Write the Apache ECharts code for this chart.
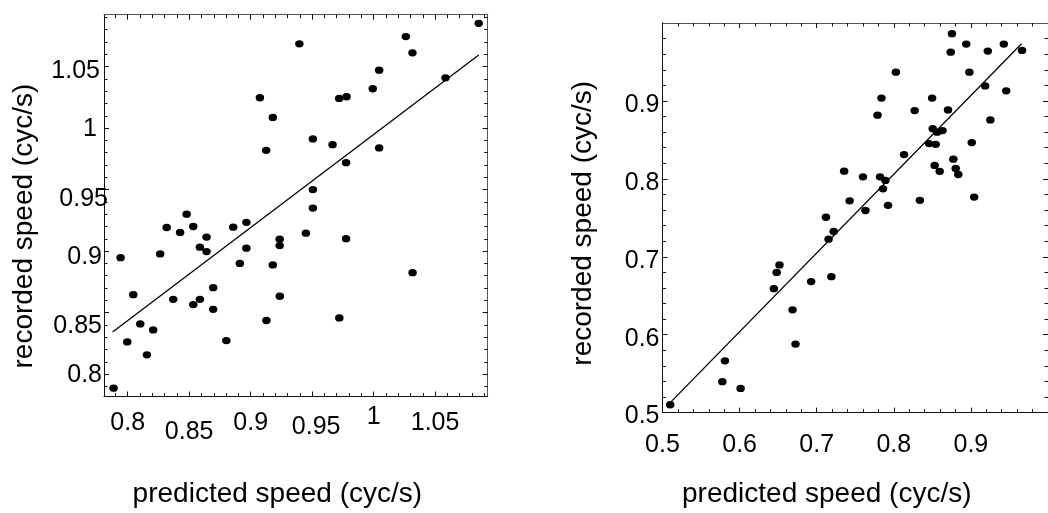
<!DOCTYPE html>
<html>
<head>
<meta charset="utf-8">
<script src="https://cdn.jsdelivr.net/npm/echarts@6/dist/echarts.min.js"></script>
<style>
html,body{margin:0;padding:0;background:#fff;}
#chart{width:1048px;height:513px;}
</style>
</head>
<body>
<div id="chart"></div>
<script>
// ---- Left panel data ----
const leftX = [0.9396,0.9075,0.9180,0.9126,1.0855,1.0262,1.0316,1.0045,0.9993,0.9720,0.9780,1.0585,0.9506,0.9666,1.0045,0.9776,0.9506,0.9506,
  0.8479,0.8317,0.8533,0.8426,0.8641,0.8587,0.8641,0.8858,0.8965,0.8965,0.9236,0.9236,0.9449,0.9776,0.7942,0.8264,0.8912,0.9180,
  0.8045,0.8695,0.8370,0.8533,0.8587,0.8695,0.9237,0.9128,0.8102,0.8207,0.7996,0.8802,0.8156,0.7885,1.0317,0.9721];
const leftY = [1.0685,1.0247,1.0087,0.9819,1.0852,1.0744,1.0612,1.0471,1.0320,1.0241,1.0255,1.0409,0.9912,0.9865,0.9839,0.9719,0.9500,0.9350,
  0.9300,0.9192,0.9200,0.9152,0.9114,0.9032,0.8996,0.9195,0.9234,0.9024,0.9097,0.9045,0.9146,0.9101,0.8947,0.8977,0.8900,0.8888,
  0.8646,0.8703,0.8608,0.8565,0.8608,0.8527,0.8633,0.8436,0.8408,0.8359,0.8262,0.8273,0.8157,0.7886,0.8825,0.8457];
const leftFitX = [0.7877, 1.0855];
const leftFitY = [0.8343, 1.0595];
const leftXTicks = [0.8, 0.85, 0.9, 0.95, 1, 1.05];
const leftYTicks = [0.8, 0.85, 0.9, 0.95, 1, 1.05];

// ---- Right panel data ----
const rightX = [0.5100,0.5810,0.5776,0.6013,0.6444,0.6481,0.6517,0.6687,0.6725,0.6928,0.7190,0.7120,0.7154,0.7220,
  0.7356,0.7427,0.7600,0.7632,0.7821,0.7891,0.7860,0.7925,0.7789,0.7840,0.8027,0.8133,0.8271,0.8338,0.8497,0.8458,
  0.8543,0.8505,0.8561,0.8632,0.8530,0.8595,0.8703,0.8754,0.8738,0.8772,0.8803,0.8836,0.8940,0.8980,0.9011,0.9042,
  0.9185,0.9219,0.9252,0.9427,0.9458,0.9663];
const rightY = [0.5101,0.5665,0.5397,0.5310,0.6591,0.6799,0.6895,0.6319,0.5880,0.6681,0.6745,0.7507,0.7226,0.7324,
  0.8098,0.7718,0.8026,0.7594,0.8026,0.7980,0.7872,0.7660,0.8817,0.9037,0.9369,0.8312,0.8876,0.7724,0.9037,0.8452,
  0.8443,0.8644,0.8599,0.8619,0.8172,0.8096,0.8884,0.9863,0.9625,0.8252,0.8133,0.8056,0.9730,0.9369,0.8466,0.7766,
  0.9193,0.9640,0.8756,0.9730,0.9130,0.9648];
const rightFitX = [0.5116, 0.9657];
const rightFitY = [0.5144, 0.9733];
const rightXTicks = [0.5, 0.6, 0.7, 0.8, 0.9];
const rightYTicks = [0.5, 0.6, 0.7, 0.8, 0.9];

const FONT = "'Liberation Sans', Arial, Helvetica, sans-serif";
const NEAR = '#111111', FAR = '#555555';

function steps(a, b, s) {
  const out = [];
  const n = Math.round((b - a) / s);
  for (let i = 0; i <= n; i++) out.push(Math.round((a + i * s) * 1000) / 1000);
  return out;
}
const leftMinor = steps(0.79, 1.09, 0.01);
const rightMinor = steps(0.52, 0.98, 0.02);

function zip(xs, ys) { return xs.map((x, i) => [x, ys[i]]); }

function lbl(extra) {
  return Object.assign({ fontFamily: FONT, fontSize: 25, color: '#000', lineHeight: 25 }, extra || {});
}

// build 4 axes for one dimension of one grid: near-major (with labels), near-minor, far-major, far-minor
function axes(gridIndex, nearPos, farPos, min, max, majors, minors, label, name) {
  const base = { type: 'value', gridIndex, min, max, splitLine: { show: false }, silent: true };
  const a0 = Object.assign({}, base, {
    position: nearPos,
    axisLine: { show: true, onZero: false, lineStyle: { color: NEAR, width: 1 } },
    axisTick: { show: true, inside: true, length: 5, customValues: majors, lineStyle: { color: NEAR, width: 1 } },
    axisLabel: label
  }, name || {});
  const a1 = Object.assign({}, base, {
    position: nearPos,
    axisLine: { show: false, onZero: false },
    axisTick: { show: true, inside: true, length: 3.5, customValues: minors, lineStyle: { color: NEAR, width: 1 } },
    axisLabel: { show: false }
  });
  const a2 = Object.assign({}, base, {
    position: farPos,
    axisLine: { show: true, onZero: false, lineStyle: { color: FAR, width: 1 } },
    axisTick: { show: true, inside: true, length: 5, customValues: majors, lineStyle: { color: NEAR, width: 1 } },
    axisLabel: { show: false }
  });
  const a3 = Object.assign({}, base, {
    position: farPos,
    axisLine: { show: false, onZero: false },
    axisTick: { show: true, inside: true, length: 3.5, customValues: minors, lineStyle: { color: NEAR, width: 1 } },
    axisLabel: { show: false }
  });
  return [a0, a1, a2, a3];
}

// per-label placement keys (mimicking the staggered labels of the original)
const lxKey = { '0.8': 'n', '0.85': 'b', '0.9': 'n', '0.95': 'c', '1': 'd', '1.05': 'n' };
const lyKey = { '0.8': 'e', '0.85': 'b', '0.9': 'n', '0.95': 'c', '1': 'd', '1.05': 'a' };

const leftXLabel = {
  show: true, customValues: leftXTicks, margin: 7,
  formatter: v => '{' + lxKey[String(v)] + '|' + v + '}',
  rich: {
    n: lbl({ padding: [15, 0, 0, 0] }),
    b: lbl({ padding: [33, 0, 0, 0] }),
    c: lbl({ padding: [23, 0, 0, 8] }),
    d: lbl({ padding: [3, 0, 0, 0] })
  }
};
const leftYLabel = {
  show: true, customValues: leftYTicks, margin: -5,
  formatter: v => '{' + lyKey[String(v)] + '|' + v + '}',
  rich: {
    a: lbl({ padding: [9, 9, 0, 0] }),
    d: lbl({ padding: [2, 12, 0, 0] }),
    c: lbl({ padding: [18, 1, 0, 0] }),
    n: lbl({ padding: [12, 7, 0, 0] }),
    b: lbl({ padding: [26, 7, 0, 0] }),
    e: lbl({ padding: [1, 7, 0, 0] })
  }
};
const rightXLabel = {
  show: true, customValues: rightXTicks, margin: 20,
  formatter: v => '{n|' + v + '}',
  rich: { n: lbl() }
};
const rightYLabel = {
  show: true, customValues: rightYTicks, margin: 3,
  formatter: v => '{n|' + v + '}',
  rich: { n: lbl({ padding: [8, 0, 0, 0] }) }
};

const titleStyle = (pad) => ({ fontFamily: FONT, fontSize: 28, color: '#000', lineHeight: 28, padding: pad });

const xAxes = [].concat(
  axes(0, 'bottom', 'top', 0.7807, 1.0928, leftXTicks, leftMinor, leftXLabel,
    { name: 'predicted speed (cyc/s)', nameLocation: 'middle', nameGap: 83.5, nameTextStyle: titleStyle([0, 37, 0, 0]) }),
  axes(1, 'bottom', 'top', 0.5, 1.0, rightXTicks, rightMinor, rightXLabel,
    { name: 'predicted speed (cyc/s)', nameLocation: 'middle', nameGap: 67.4, nameTextStyle: titleStyle([0, 57, 0, 0]) })
);
const yAxes = [].concat(
  axes(0, 'left', 'right', 0.7818, 1.0922, leftYTicks, leftMinor, leftYLabel,
    { name: 'recorded speed (cyc/s)', nameLocation: 'middle', nameGap: 65.5, nameTextStyle: titleStyle([0, 41, 0, 0]) }),
  axes(1, 'left', 'right', 0.5, 1.0, rightYTicks, rightMinor, rightYLabel,
    { name: 'recorded speed (cyc/s)', nameLocation: 'middle', nameGap: 65.5, nameTextStyle: titleStyle([0, 11, 0, 0]) })
);

const dot = { color: '#000', opacity: 1 };
const option = {
  animation: false,
  backgroundColor: '#fff',
  grid: [
    { left: 104, top: 14.7, width: 383.7, height: 382.8, containLabel: false },
    { left: 662.5, top: 23, width: 408.5, height: 390.6, containLabel: false }
  ],
  xAxis: xAxes,
  yAxis: yAxes,
  series: [
    { type: 'line', xAxisIndex: 0, yAxisIndex: 0, data: zip(leftFitX, leftFitY), symbol: 'none',
      lineStyle: { color: '#000', width: 1.3 }, silent: true, z: 2 },
    { type: 'scatter', xAxisIndex: 0, yAxisIndex: 0, data: zip(leftX, leftY), symbol: 'circle',
      symbolSize: [8.5, 7.3], itemStyle: dot, silent: true, z: 3 },
    { type: 'line', xAxisIndex: 4, yAxisIndex: 4, data: zip(rightFitX, rightFitY), symbol: 'none',
      lineStyle: { color: '#000', width: 1.3 }, silent: true, z: 2 },
    { type: 'scatter', xAxisIndex: 4, yAxisIndex: 4, data: zip(rightX, rightY), symbol: 'circle',
      symbolSize: [8.5, 7.3], itemStyle: dot, silent: true, z: 3 }
  ]
};

const chart = echarts.init(document.getElementById('chart'), null, { renderer: 'canvas' });
chart.setOption(option);
</script>
</body>
</html>
